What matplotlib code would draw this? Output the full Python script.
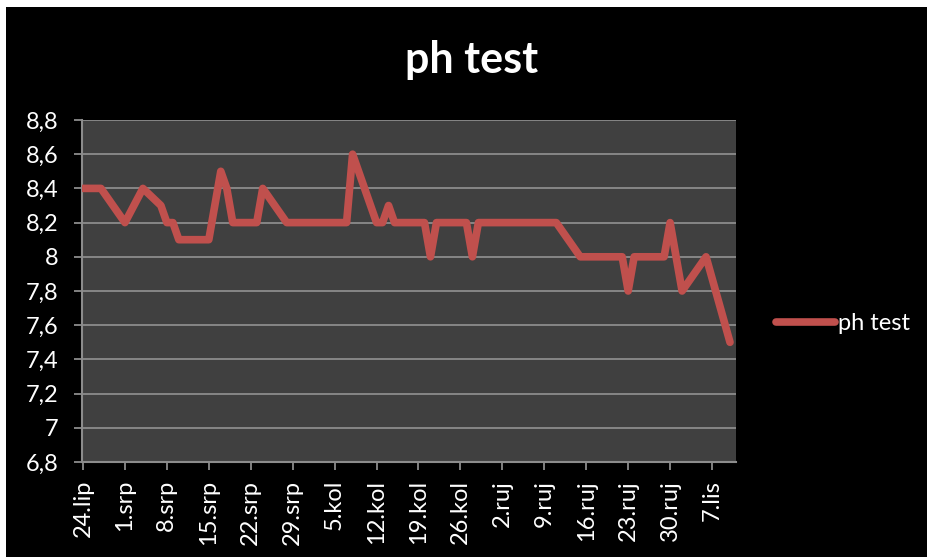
import pandas as pd
import numpy as np
import matplotlib.pyplot as plt
import matplotlib.patches as mpatches

# Data
dates = ['2013-06-24', '2013-06-27', '2013-07-01', '2013-07-04', '2013-07-07',
         '2013-07-08', '2013-07-09', '2013-07-10', '2013-07-15', '2013-07-17',
         '2013-07-18', '2013-07-19', '2013-07-23', '2013-07-24', '2013-07-28',
         '2013-08-07', '2013-08-08', '2013-08-12', '2013-08-13', '2013-08-14',
         '2013-08-15', '2013-08-20', '2013-08-21', '2013-08-22', '2013-08-27',
         '2013-08-28', '2013-08-29', '2013-09-11', '2013-09-15', '2013-09-22',
         '2013-09-23', '2013-09-24', '2013-09-29', '2013-09-30', '2013-10-02',
         '2013-10-06', '2013-10-10']
ph = [8.4, 8.4, 8.2, 8.4, 8.3,
      8.2, 8.2, 8.1, 8.1, 8.5,
      8.4, 8.2, 8.2, 8.4, 8.2,
      8.2, 8.6, 8.2, 8.2, 8.3,
      8.2, 8.2, 8.0, 8.2, 8.2,
      8.0, 8.2, 8.2, 8.0, 8.0,
      7.8, 8.0, 8.0, 8.2, 7.8,
      8.0, 7.5]

tick_dates = pd.date_range('2013-06-24', '2013-10-07', freq='7D')
tick_labels = ['24.lip', '1.srp', '8.srp', '15.srp', '22.srp', '29.srp', '5.kol',
               '12.kol', '19.kol', '26.kol', '2.ruj', '9.ruj', '16.ruj', '23.ruj',
               '30.ruj', '7.lis']
y_ticks = [6.8, 7.0, 7.2, 7.4, 7.6, 7.8, 8.0, 8.2, 8.4, 8.6, 8.8]
y_labels = ['6,8', '7', '7,2', '7,4', '7,6', '7,8', '8', '8,2', '8,4', '8,6', '8,8']

plt.rcParams['font.family'] = ['Lato', 'DejaVu Sans']

fig = plt.figure(figsize=(9.28, 5.57), dpi=100)
fig.patch.set_facecolor('white')
# black chart area with thin white margin at top/left
fig.patches.append(mpatches.Rectangle((6 / 928, 0), 1, 1 - 7 / 557, transform=fig.transFigure,
                                      facecolor='black', edgecolor='none', zorder=0))

ax = fig.add_axes([82 / 928, 1 - 462 / 557, (736 - 82) / 928, (462 - 120) / 557])
ax.set_zorder(2)
ax.set_facecolor('#404040')

x = pd.to_datetime(dates)
ax.plot(x, ph, color='#C0504D', linewidth=5.5, solid_capstyle='round',
        solid_joinstyle='round', label='ph test', zorder=3)

ax.set_ylim(6.8, 8.8)
ax.set_xlim(pd.Timestamp('2013-06-24') - pd.Timedelta(hours=4), pd.Timestamp('2013-10-11'))
ax.set_yticks(y_ticks)
ax.set_yticklabels(y_labels)
ax.set_xticks(tick_dates)
ax.set_xticklabels(tick_labels, rotation=90)

ax.grid(axis='y', color='#8c8c8c', linewidth=1.3)
ax.set_axisbelow(True)
for side in ['top', 'right']:
    ax.spines[side].set_visible(False)
for side in ['left', 'bottom']:
    ax.spines[side].set_color('#8c8c8c')
    ax.spines[side].set_linewidth(1.5)
ax.tick_params(colors='#8c8c8c', length=6, width=1.3, labelcolor='white', labelsize=17)
ax.tick_params(axis='y', pad=11)
ax.tick_params(axis='x', pad=7)

fig.text(472 / 928, 1 - 60 / 557, 'ph test', color='white', fontsize=31,
         fontweight='bold', ha='center', va='center', zorder=3)

leg = ax.legend(loc='center left', bbox_to_anchor=(1.029, 0.405), frameon=False,
                fontsize=17, handlelength=2.5, handletextpad=0.1,
                labelcolor='white')

plt.savefig('out.png', dpi=100, facecolor=fig.get_facecolor())
